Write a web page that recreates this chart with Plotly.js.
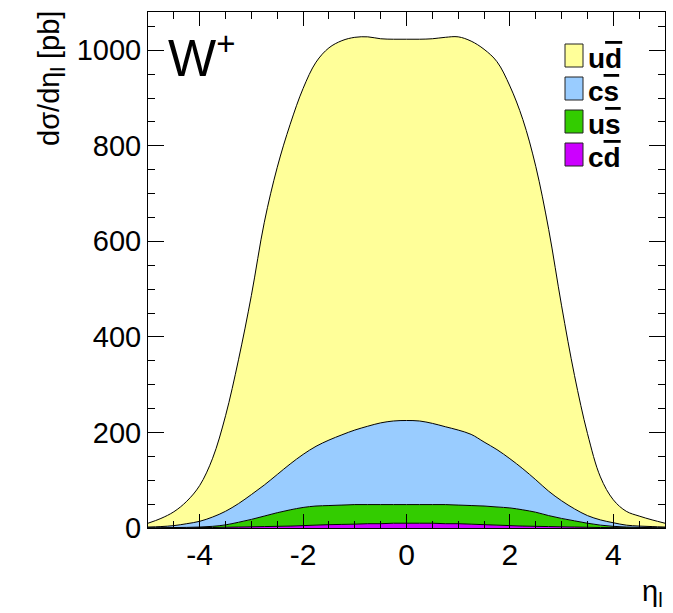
<!DOCTYPE html>
<html>
<head>
<meta charset="utf-8">
<script src="https://cdn.plot.ly/plotly-3.0.1.min.js"></script>
<style>html,body{margin:0;padding:0;background:#fff;}</style>
</head>
<body>
<div id="chart" style="width:673px;height:613px;"></div>
<script>
// pseudorapidity of the lepton
const eta = [-5,-4.75,-4.5,-4.25,-4,-3.75,-3.5,-3.25,-3,-2.75,-2.5,-2.25,-2,-1.75,-1.5,-1.25,-1,-0.75,-0.5,-0.25,0,0.25,0.5,0.75,1,1.25,1.5,1.75,2,2.25,2.5,2.75,3,3.25,3.5,3.75,4,4.25,4.5,4.75,5];
// contributions dσ/dη [pb] (stacked: cd at bottom, then us, cs, ud)
const ud = [8,17,29,47,75,123,200,301,417,550,643,711,766,804,821,825,822,815,804,799,798,799,805,815,823,823,822,812,780,731,656,548,408,279,172,90,48,29,21,14,8];
const cs = [1.5,2.3,4,7.7,12,19.5,28.5,39,52,65,80,96,111,125,137,147,156,164,171,175,176,175,170,163,157,149,134,120,103,86,68,51,37,25,16,11,7.5,4,2.8,2.2,1.5];
const us = [0.3,0.4,0.6,0.8,1.2,2.5,5,10,15.5,22,28.5,34,38,40,40,40.5,41,40,40,39,39,39,39,40,39,39,39,38,37,34,29.5,23,17.5,13,8.5,5,2.7,1.5,0.8,0.5,0.3];
const cd = [0.2,0.3,0.4,0.5,0.8,1,1.5,2,2.5,3,3.5,4,5,6,7,7.5,8,9,9,10,10,10,10,9,9,8,7,6,5,4,3.5,3,2.5,2,1.5,1,0.8,0.5,0.4,0.3,0.2];

const seriesNames = ['ud', 'cs', 'us', 'cd'];
const seriesLabels = [
  'u<span style="text-decoration:overline">d</span>',
  'c<span style="text-decoration:overline">s</span>',
  'u<span style="text-decoration:overline">s</span>',
  'c<span style="text-decoration:overline">d</span>'
];
const seriesColors = ['#ffff99', '#99ccff', '#33cc00', '#cc00ff'];

const xTickVals = [-4,-2,0,2,4];
const xTickText = ['-4','-2','0','2','4'];
const yTickVals = [0,200,400,600,800,1000];
const yTickText = ['0','200','400','600','800','1000'];

const FONT = '"Liberation Sans", Arial, sans-serif';

// stack from bottom to top
const stackOrder = [
  {name: 'cd', y: cd, color: seriesColors[3]},
  {name: 'us', y: us, color: seriesColors[2]},
  {name: 'cs', y: cs, color: seriesColors[1]},
  {name: 'ud', y: ud, color: seriesColors[0]}
];
const traces = stackOrder.map(s => ({
  type: 'scatter', mode: 'lines', x: eta, y: s.y, name: s.name,
  stackgroup: 'one', fillcolor: s.color,
  line: {color: 'black', width: 1, shape: 'spline', smoothing: 1},
  showlegend: false, hoverinfo: 'skip'
}));

// plot area in pixels: left 148, right 665, top 12, bottom 528
const L = 148, R = 665, T = 12, B = 528;
const px = x => (x - L) / (R - L);
const py = y => (B - y) / (B - T);

const shapes = [];
const annotations = [];
const boxTops = [44, 77, 110, 143];
for (let i = 0; i < 4; i++) {
  shapes.push({
    type: 'rect', xref: 'paper', yref: 'paper',
    x0: px(565), x1: px(583), y0: py(boxTops[i] + 23), y1: py(boxTops[i]),
    fillcolor: seriesColors[i], line: {color: '#222', width: 1}
  });
  annotations.push({
    xref: 'paper', yref: 'paper', x: px(586), y: py(boxTops[i] + 14),
    xanchor: 'left', yanchor: 'middle', showarrow: false,
    text: '<b>' + seriesLabels[i] + '</b>',
    font: {family: FONT, size: 28, color: 'black'}
  });
}
annotations.push({
  xref: 'paper', yref: 'paper', x: px(166), y: py(23),
  xanchor: 'left', yanchor: 'top', showarrow: false,
  text: 'W<sup><span style="font-size:33px">+</span></sup>',
  font: {family: FONT, size: 51, color: 'black'}
});
annotations.push({
  xref: 'paper', yref: 'paper', x: px(51), y: 1.005,
  xanchor: 'center', yanchor: 'top', showarrow: false, textangle: -90,
  text: 'dσ/dη<sub>l</sub> [pb]',
  font: {family: FONT, size: 29, color: 'black'}
});
annotations.push({
  xref: 'paper', yref: 'paper', x: 1, y: py(593),
  xanchor: 'right', yanchor: 'middle', showarrow: false,
  text: 'η<sub>l</sub>',
  font: {family: FONT, size: 29, color: 'black'}
});

const axisCommon = {
  showline: true, linecolor: 'black', linewidth: 1, mirror: 'allticks',
  ticks: 'inside', tickcolor: 'black', tickwidth: 1,
  showgrid: false, zeroline: false, tickmode: 'array'
};

const layout = {
  width: 673, height: 613,
  margin: {l: L, r: 673 - R, t: T, b: 613 - B, pad: 0},
  paper_bgcolor: 'white', plot_bgcolor: 'white',
  font: {family: FONT, color: 'black'},
  showlegend: false,
  xaxis: Object.assign({}, axisCommon, {
    range: [-5, 5], tickvals: xTickVals, ticktext: xTickText, ticklen: 14,
    tickfont: {family: FONT, size: 30, color: 'black'},
    minor: {ticks: 'inside', tickmode: 'linear', tick0: 0, dtick: 0.5, ticklen: 7, tickcolor: 'black', tickwidth: 1, showgrid: false}
  }),
  yaxis: Object.assign({}, axisCommon, {
    range: [0, 1080], tickvals: yTickVals, ticktext: yTickText, ticklen: 16,
    tickfont: {family: FONT, size: 29, color: 'black'},
    minor: {ticks: 'inside', tickmode: 'linear', tick0: 0, dtick: 50, ticklen: 7, tickcolor: 'black', tickwidth: 1, showgrid: false}
  }),
  shapes: shapes,
  annotations: annotations
};

Plotly.newPlot('chart', traces, layout, {displayModeBar: false, staticPlot: true});
</script>
</body>
</html>
